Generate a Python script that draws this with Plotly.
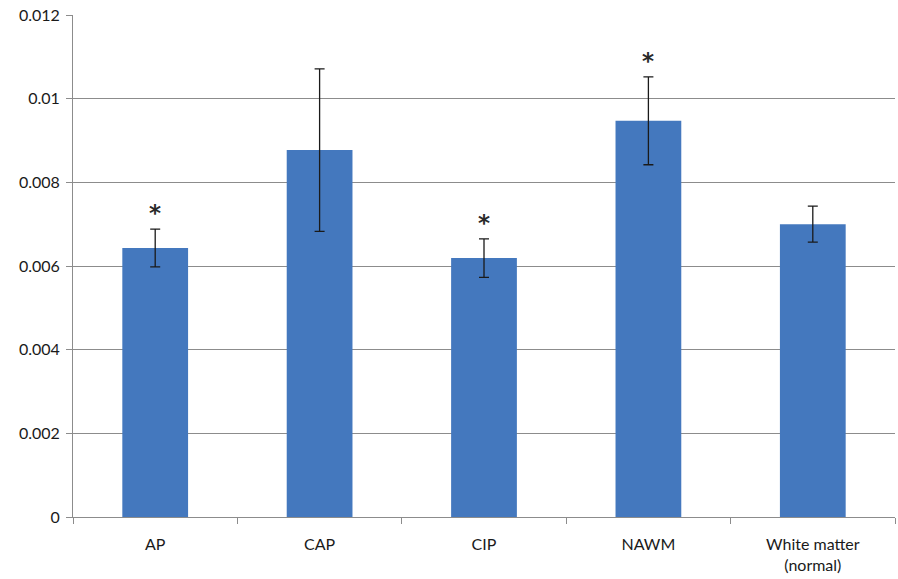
import plotly.graph_objects as go

categories = ["AP", "CAP", "CIP", "NAWM", "White matter<br>(normal)"]
means = [0.00643, 0.00877, 0.00619, 0.00947, 0.00700]
errors = [0.00045, 0.00194, 0.00046, 0.00105, 0.00043]
significant = [True, False, True, True, False]
ytick_vals = [0, 0.002, 0.004, 0.006, 0.008, 0.01, 0.012]
ytick_text = ["0", "0.002", "0.004", "0.006", "0.008", "0.01", "0.012"]

font_family = "Lato, 'Open Sans', sans-serif"

fig = go.Figure()
fig.add_trace(go.Bar(
    x=categories, y=means,
    marker=dict(color="#4478be", line=dict(width=0)),
    error_y=dict(type="data", array=errors, visible=True,
                 color="#1a1a1a", thickness=1.3, width=5),
))

for c, m, e, s in zip(categories, means, errors, significant):
    if s:
        fig.add_annotation(x=c, y=m + e, text="<b>*</b>", showarrow=False,
                           yanchor="bottom", yshift=1,
                           font=dict(size=23, color="#2a2a2a", family="DejaVu Sans"))

fig.update_layout(
    width=898, height=579,
    margin=dict(l=73, r=3, t=15, b=62, autoexpand=False),
    plot_bgcolor="white", paper_bgcolor="white",
    bargap=0.6, showlegend=False,
    font=dict(family=font_family, size=16, color="#1a1a1a"),
)
fig.update_yaxes(range=[0, 0.012], tickvals=ytick_vals, ticktext=ytick_text,
                 showgrid=True, gridcolor="#8c8c8c", gridwidth=1,
                 showline=True, linecolor="#8c8c8c", linewidth=1,
                 ticks="outside", ticklen=6, tickcolor="#8c8c8c",
                 zeroline=False, ticklabelstandoff=3, automargin=False)
fig.update_xaxes(showline=True, linecolor="#8c8c8c", linewidth=1,
                 ticks="outside", ticklen=6, tickcolor="#8c8c8c",
                 tickson="boundaries", showgrid=False, automargin=False,
                 ticklabelstandoff=13)

# remove the default 8px page margin so the figure fills the window exactly
fig.write_html("out.html", config={"displayModeBar": False},
               post_script="document.body.style.margin='0';document.body.style.overflow='hidden';")
